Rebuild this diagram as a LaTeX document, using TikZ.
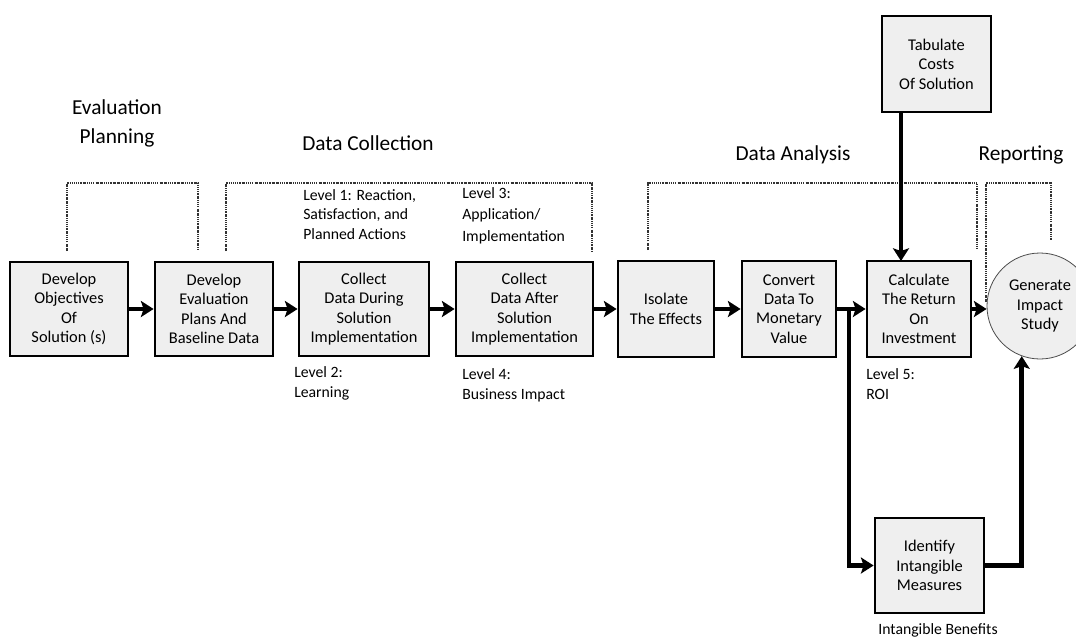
\documentclass[tikz,border=0pt]{standalone}
\usepackage{fontspec}
\setmainfont{Carlito}
\usetikzlibrary{arrows.meta,shapes.geometric}
\definecolor{boxfill}{HTML}{EFEFEF}
\definecolor{dotc}{HTML}{333333}
\tikzset{
  procbox/.style={draw=black, line width=2.1pt, fill=boxfill, align=center,
    font=\fontsize{12.3}{14.6}\selectfont, inner sep=1pt},
  endcirc/.style={circle, draw=black!70, line width=0.6pt, fill=boxfill, align=center,
    font=\fontsize{12.3}{14.6}\selectfont, inner sep=0pt, minimum size=79.5pt},
  heading/.style={align=center, font=\fontsize{16}{21.5}\selectfont, inner sep=0pt},
  lvl/.style={align=left, anchor=west, font=\fontsize{11.8}{14.8}\selectfont, inner sep=0pt},
  arr/.style={line width=3.4pt, -{Stealth[length=9.5pt,width=12pt,inset=2pt]}},
  bracket/.style={draw=dotc, line width=0.9pt, dash pattern=on 1.2pt off 0.8pt on 0.4pt off 0.8pt}
}
\begin{document}
\begin{tikzpicture}[x=0.75pt,y=-0.75pt]
\useasboundingbox (0,0) rectangle (1076,639);
\begin{scope}
\clip (0,0) rectangle (1076,639);
% boxes
\node[procbox, minimum width=88.5pt, minimum height=70.5pt] (b1) at (69,309) {Develop\\Objectives\\Of\\Solution (s)};
\node[procbox, minimum width=88.5pt, minimum height=70.5pt] (b2) at (214,309) {Develop\\Evaluation\\Plans And\\Baseline Data};
\node[procbox, minimum width=97.5pt, minimum height=70.5pt] (b3) at (364,309) {Collect\\Data During\\Solution\\Implementation};
\node[procbox, minimum width=102.75pt, minimum height=70.5pt] (b4) at (524.5,309) {Collect\\Data After\\Solution\\Implementation};
\node[procbox, minimum width=72pt, minimum height=72pt] (b5) at (666,309) {Isolate\\The Effects};
\node[procbox, minimum width=70.5pt, minimum height=72pt] (b6) at (789,309) {Convert\\Data To\\Monetary\\Value};
\node[procbox, minimum width=78pt, minimum height=72pt] (b7) at (919,309) {Calculate\\The Return\\On\\Investment};
\node[procbox, minimum width=81.75pt, minimum height=72pt] (tab) at (936.5,64) {Tabulate\\Costs\\Of Solution};
\node[procbox, minimum width=81.75pt, minimum height=71.25pt] (idt) at (929.5,565.5) {Identify\\Intangible\\Measures};
\node[endcirc] (circ) at (1040,306) {Generate\\Impact\\Study};

% headings
\node[heading] (hEP) at (117,123.5) {Evaluation\\Planning};
\node[heading] (hDC) at (368,143) {Data Collection};
\node[heading] (hDA) at (793,155) {Data Analysis};
\node[heading] (hRP) at (1021,155) {Reporting};

% level labels
\node[lvl] (l1) at (303,214.5) {Level 1: Reaction,\\Satisfaction, and\\Planned Actions};
\node[lvl, font=\fontsize{11.8}{16}\selectfont] (l3) at (462,215.5) {Level 3:\\Application/\\Implementation};
\node[lvl] (l2) at (294,383.5) {Level 2:\\Learning};
\node[lvl] (l4) at (462,385) {Level 4:\\Business Impact};
\node[lvl] (l5) at (866,384) {Level 5:\\ROI};
\node[align=center, font=\fontsize{11.8}{14.8}\selectfont, inner sep=0pt] (ib) at (938,630) {Intangible Benefits};

% dotted brackets
\draw[bracket] (67,251) -- (67,183) -- (198,183) -- (198,251);
\draw[bracket] (226,251) -- (226,183) -- (592,183) -- (592,251);
\draw[bracket] (648,250) -- (648,183) -- (977,183) -- (977,250);
\draw[bracket] (986,302) -- (986,183) -- (1051,183) -- (1051,240);

% connectors
\draw[arr] (b1.east) -- (b2.west);
\draw[arr] (b2.east) -- (b3.west);
\draw[arr] (b3.east) -- (b4.west);
\draw[arr] (b4.east) -- (b5.west);
\draw[arr] (b5.east) -- (b6.west);
\draw[arr] (b6.east) -- (b7.west);
\coordinate (j) at (849,309);
\draw[arr] (j) |- (idt.west);
\draw[arr] (idt.east) -| (circ.-110);
\coordinate (rcv) at (901,261);
\draw[arr] (tab.south -| rcv) -- (rcv);
\draw[arr] (b7.east) -- (b7.east -| circ.west);
\end{scope}
\end{tikzpicture}
\end{document}
